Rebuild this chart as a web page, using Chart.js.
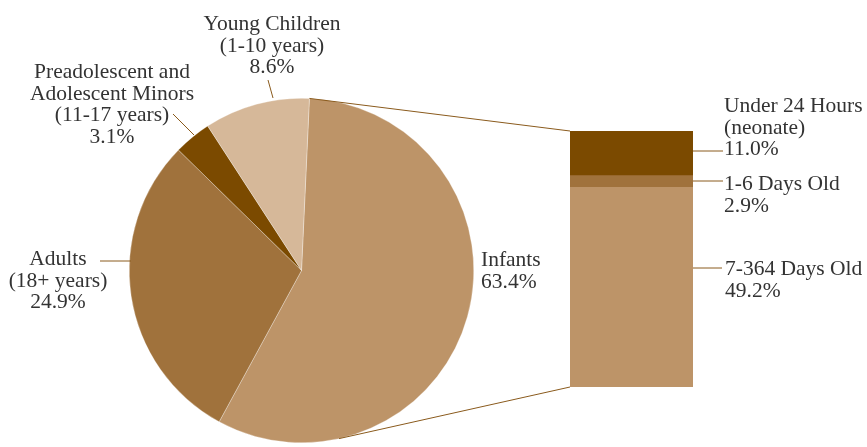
<!DOCTYPE html>
<html><head><meta charset="utf-8">
<script src="https://cdn.jsdelivr.net/npm/chart.js@4.4.1/dist/chart.umd.min.js"></script>
<style>
html,body{margin:0;padding:0;background:#fff;}
#wrap{position:relative;width:867px;height:447px;overflow:hidden;}
canvas{position:absolute;left:0;top:0;}
</style></head><body>
<div id="wrap"><canvas id="pie" width="867" height="447"></canvas><canvas id="bar" width="867" height="447"></canvas></div>
<script>
// ---- data ----
const pieCategories = ['Infants', 'Adults', 'Preadolescent and Adolescent Minors', 'Young Children'];
const pieLabelLines = [['Infants'], ['Adults', '(18+ years)'], ['Preadolescent and', 'Adolescent Minors', '(11-17 years)'], ['Young Children', '(1-10 years)']];
const piePercents = ['63.4%', '24.9%', '3.1%', '8.6%'];
const pieSliceShares = [57.2, 29.4, 3.5, 9.9];   // slice sizes as drawn in the picture
const barCategories = ['7-364 Days Old', '1-6 Days Old', 'Under 24 Hours (neonate)'];
const barLabelLines = [['7-364 Days Old'], ['1-6 Days Old'], ['Under 24 Hours', '(neonate)']];
const barValues = [49.2, 2.9, 11.0];
const barPercents = ['49.2%', '2.9%', '11.0%'];

// ---- styles ----
const C_INF = '#BD9468', C_ADU = '#A0723C', C_DARK = '#7B4A00', C_YOUNG = '#D6B899';
const TEXT = '#333333', LEAD = '#8A5A1C';
const FONT = '21.5px "Liberation Serif", "Times New Roman", serif';
const LH = 21.7;
Chart.defaults.animation = false;

function drawText(ctx, lines, x, y, align) {
  ctx.save();
  ctx.font = FONT; ctx.fillStyle = TEXT; ctx.textAlign = align; ctx.textBaseline = 'alphabetic';
  lines.forEach((l, i) => ctx.fillText(l, x, y + i * LH));
  ctx.restore();
}
function line(ctx, x1, y1, x2, y2) {
  ctx.save(); ctx.strokeStyle = LEAD; ctx.lineWidth = 1;
  ctx.beginPath(); ctx.moveTo(x1, y1); ctx.lineTo(x2, y2); ctx.stroke(); ctx.restore();
}

const pieLabels = {
  id: 'pieLabels',
  afterDraw(chart) {
    const ctx = chart.ctx;
    const L = (i) => pieLabelLines[i].concat([piePercents[i]]);
    // Young Children
    drawText(ctx, L(3), 272, 30, 'center');
    line(ctx, 268, 80, 273, 98);
    // Preadolescent
    drawText(ctx, L(2), 112, 78, 'center');
    line(ctx, 173, 114, 194, 135);
    // Adults
    drawText(ctx, L(1), 58, 265, 'center');
    line(ctx, 100, 261, 131, 261);
    // Infants
    drawText(ctx, L(0), 481, 266, 'left');
  }
};

const pieChart = new Chart(document.getElementById('pie'), {
  type: 'pie',
  data: {
    labels: pieCategories,
    datasets: [{
      data: pieSliceShares,
      backgroundColor: [C_INF, C_ADU, C_DARK, C_YOUNG],
      borderColor: 'rgba(255,255,255,0.6)',
      borderWidth: 0.5,
      hoverOffset: 0
    }]
  },
  options: {
    responsive: false,
    rotation: 2.64,
    layout: { padding: { left: 129, top: 98, right: 393, bottom: 4 } },
    plugins: { legend: { display: false }, tooltip: { enabled: false } },
    events: []
  },
  plugins: [pieLabels]
});

const barDecor = {
  id: 'barDecor',
  afterDraw(chart) {
    const ctx = chart.ctx;
    const ca = chart.chartArea;
    const arc0 = pieChart.getDatasetMeta(0).data[0];
    const cx = arc0.x, cy = arc0.y, r = arc0.outerRadius;
    // top connector: from Infants slice start to bar top-left
    const a = arc0.startAngle;
    line(ctx, cx + r * Math.cos(a), cy + r * Math.sin(a), ca.left, ca.top);
    // bottom connector: tangent from bar bottom-left to pie
    const px = ca.left, py = ca.bottom;
    const d = Math.hypot(px - cx, py - cy);
    const th = Math.atan2(py - cy, px - cx) + Math.acos(r / d);
    line(ctx, cx + r * Math.cos(th), cy + r * Math.sin(th), px, py);
    // labels
    const right = ca.right;
    const Lb = (i) => barLabelLines[i].concat([barPercents[i]]);
    drawText(ctx, Lb(2), 724, 112, 'left');
    line(ctx, right, 151, 723, 151);
    drawText(ctx, Lb(1), 724, 190, 'left');
    line(ctx, right, 181, 723, 181);
    drawText(ctx, Lb(0), 725, 275, 'left');
    line(ctx, right, 268, 722, 268);
  }
};

const barColors = [C_INF, C_ADU, C_DARK];
new Chart(document.getElementById('bar'), {
  type: 'bar',
  data: {
    labels: ['Infants'],
    datasets: barValues.map((v, i) => ({
      label: barCategories[i],
      data: [v],
      backgroundColor: barColors[i],
      borderWidth: 0,
      barPercentage: 1,
      categoryPercentage: 1,
      stack: 's'
    }))
  },
  options: {
    responsive: false,
    layout: { padding: { left: 570, top: 131, right: 174, bottom: 60 } },
    scales: {
      x: { display: false, stacked: true },
      y: { display: false, stacked: true, min: 0, max: barValues.reduce((s, v) => s + v, 0) }
    },
    plugins: { legend: { display: false }, tooltip: { enabled: false } },
    events: []
  },
  plugins: [barDecor]
});
</script>
</body></html>
